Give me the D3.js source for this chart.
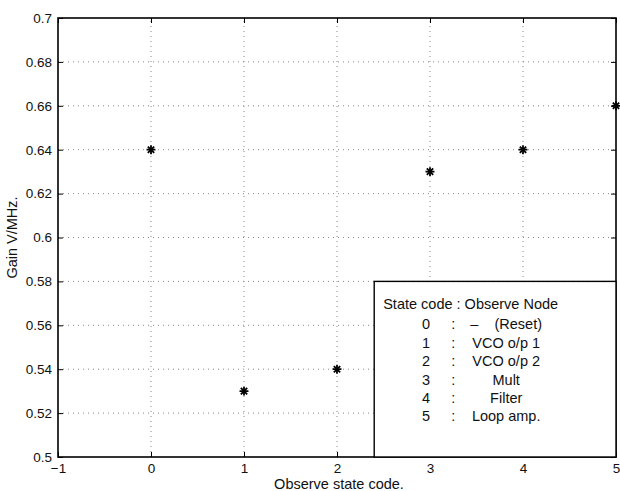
<!DOCTYPE html>
<html>
<head>
<meta charset="utf-8">
<script src="https://cdn.jsdelivr.net/npm/d3@7"></script>
<style>
  body { margin: 0; background: #fff; }
  text { font-family: "Liberation Sans", Arial, sans-serif; fill: #111; white-space: pre; }
</style>
</head>
<body>
<div id="chart"></div>
<script>
const width = 620
const height = 491
const margin = {top: 18, right: 4, bottom: 34, left: 58}

// data
const stateCodes = [0, 1, 2, 3, 4, 5]
const gains = [0.64, 0.53, 0.54, 0.63, 0.64, 0.66]
const xTicks = [-1, 0, 1, 2, 3, 4, 5]
const yTicks = [0.5, 0.52, 0.54, 0.56, 0.58, 0.6, 0.62, 0.64, 0.66, 0.68, 0.7]
const legendCodes = ['0', '1', '2', '3', '4', '5']
const legendNodes = ['–    (Reset)', 'VCO o/p 1', 'VCO o/p 2', 'Mult', 'Filter', 'Loop amp.']

const svg = d3.select('#chart')
  .append('svg')
  .attr('width', width)
  .attr('height', height)

const x = d3.scaleLinear().domain([-1, 5]).range([margin.left, width - margin.right])
const y = d3.scaleLinear().domain([0.5, 0.7]).range([height - margin.bottom, margin.top])

const x0 = x.range()[0], x1 = x.range()[1]
const y0 = y.range()[0], y1 = y.range()[1]

// grid
const grid = svg.append('g')
  .attr('stroke', '#888')
  .attr('stroke-width', 1)
  .attr('stroke-dasharray', '1,4')
grid.selectAll('.gx').data(xTicks.slice(1, -1)).enter().append('line')
  .attr('x1', d => x(d)).attr('x2', d => x(d)).attr('y1', y0).attr('y2', y1)
grid.selectAll('.gy').data(yTicks.slice(1, -1)).enter().append('line')
  .attr('y1', d => y(d)).attr('y2', d => y(d)).attr('x1', x0).attr('x2', x1)

// axes, ticks inward
const fmtY = d => d3.format('.2f')(d).replace(/0+$/, '').replace(/\.$/, '')
const fmtX = d => d < 0 ? '\u2212' + Math.abs(d) : d
svg.append('g')
  .attr('transform', `translate(0,${y0})`)
  .call(d3.axisBottom(x).tickValues(xTicks).tickFormat(fmtX).tickSizeInner(-5).tickSizeOuter(0).tickPadding(6))
  .call(g => g.select('.domain').remove())
  .call(g => g.selectAll('text').attr('font-size', 13.5).attr('fill', '#111'))
svg.append('g')
  .attr('transform', `translate(${x0},0)`)
  .call(d3.axisLeft(y).tickValues(yTicks).tickFormat(fmtY).tickSizeInner(-5).tickSizeOuter(0).tickPadding(6))
  .call(g => g.select('.domain').remove())
  .call(g => g.selectAll('text').attr('font-size', 13.5).attr('fill', '#111'))
svg.append('g')
  .attr('transform', `translate(0,${y1})`)
  .call(d3.axisTop(x).tickValues(xTicks).tickFormat('').tickSizeInner(-5).tickSizeOuter(0))
  .call(g => g.select('.domain').remove())
svg.append('g')
  .attr('transform', `translate(${x1},0)`)
  .call(d3.axisRight(y).tickValues(yTicks).tickFormat('').tickSizeInner(-5).tickSizeOuter(0))
  .call(g => g.select('.domain').remove())

// frame
svg.append('rect')
  .attr('x', x0).attr('y', y1)
  .attr('width', x1 - x0).attr('height', y0 - y1)
  .attr('fill', 'none').attr('stroke', '#000').attr('stroke-width', 1.6)

// legend box
const lx = x(2.4), ly = y(0.58)
const legend = svg.append('g')
legend.append('rect')
  .attr('x', lx).attr('y', ly)
  .attr('width', x1 - lx).attr('height', y0 - ly)
  .attr('fill', '#fff').attr('stroke', '#000').attr('stroke-width', 1.4)
legend.append('text')
  .attr('x', lx + 9).attr('y', ly + 28)
  .attr('font-size', 14.5)
  .text('State code : Observe Node')
legendCodes.forEach((c, i) => {
  const ty = ly + 48 + i * 18.4
  legend.append('text').attr('x', lx + 56).attr('y', ty).attr('font-size', 14.5).attr('text-anchor', 'end').text(c)
  legend.append('text').attr('x', lx + 79).attr('y', ty).attr('font-size', 14.5).attr('text-anchor', 'middle').text(':')
  legend.append('text').attr('x', lx + 132).attr('y', ty).attr('font-size', 14.5).attr('text-anchor', 'middle').text(legendNodes[i])
})

// asterisk markers
const points = svg.append('g')
  .selectAll('g')
  .data(stateCodes.map((c, i) => ({code: c, gain: gains[i]})))
  .enter().append('g')
  .attr('transform', d => `translate(${x(d.code)},${y(d.gain)})`)
  .attr('stroke', '#000').attr('stroke-width', 1.8)
points.append('path').attr('d', d3.symbol(d3.symbolPlus, 28)())
points.append('path').attr('d', d3.symbol(d3.symbolTimes, 28)())

// axis labels
svg.append('text')
  .attr('x', (x0 + x1) / 2 + 2).attr('y', height - 2)
  .attr('text-anchor', 'middle').attr('font-size', 14.5)
  .text('Observe state code.')
svg.append('text')
  .attr('transform', `translate(17,${(y0 + y1) / 2}) rotate(-90)`)
  .attr('text-anchor', 'middle').attr('font-size', 14.5)
  .text('Gain V/MHz.')
</script>
</body>
</html>
